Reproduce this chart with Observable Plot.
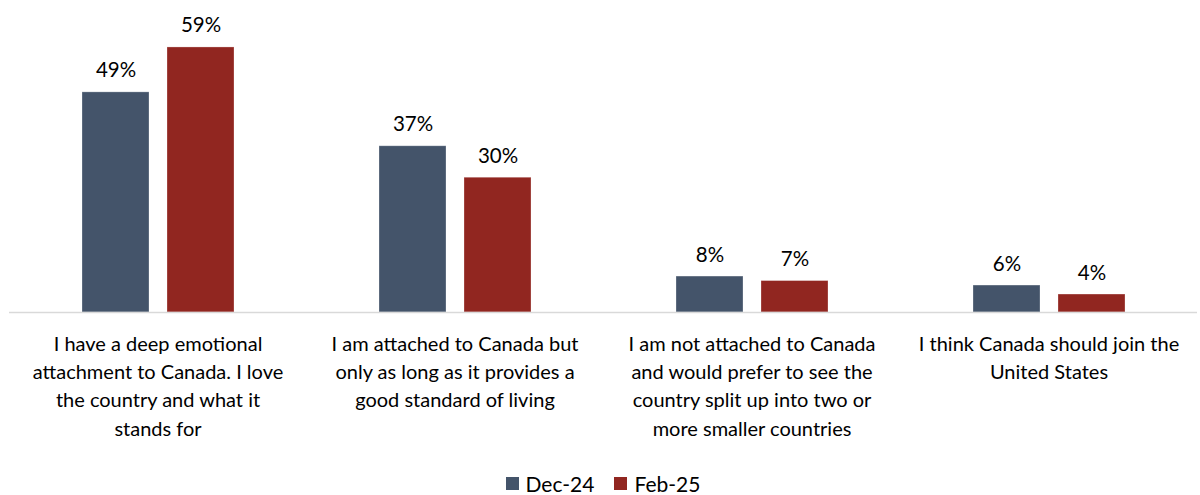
<!DOCTYPE html>
<html>
<head>
<meta charset="utf-8">
<script src="https://cdn.jsdelivr.net/npm/d3@7"></script>
<script src="https://cdn.jsdelivr.net/npm/@observablehq/plot@0.6"></script>
<style>
  body { margin: 0; background: #fff; font-family: Lato, "Open Sans", sans-serif; }
  #chart { width: 1200px; }
  .legend { display: flex; justify-content: center; align-items: center; gap: 20px; font-size: 21px; color: #000; margin-top: 26px; padding-left: 6px; }
  .legend span.item { display: flex; align-items: center; gap: 7px; }
  .legend span.sw { width: 13px; height: 13px; display: inline-block; }
</style>
</head>
<body>
<div id="chart"></div>
<script>
const categories = [
  "I have a deep emotional attachment to Canada. I love the country and what it stands for",
  "I am attached to Canada but only as long as it provides a good standard of living",
  "I am not attached to Canada and would prefer to see the country split up into two or more smaller countries",
  "I think Canada should join the United States"
];
const categoryLabels = [
  "I have a deep emotional\nattachment to Canada. I love\nthe country and what it\nstands for",
  "I am attached to Canada but\nonly as long as it provides a\ngood standard of living",
  "I am not attached to Canada\nand would prefer to see the\ncountry split up into two or\nmore smaller countries",
  "I think Canada should join the\nUnited States"
];
const seriesNames = ["Dec-24", "Feb-25"];
const dec24 = [49, 37, 8, 6];
const feb25 = [59, 30, 7, 4];
const colors = ["#44546A", "#912620"];

const rows = [];
categories.forEach((c, i) => {
  rows.push({category: c, series: seriesNames[0], value: dec24[i]});
  rows.push({category: c, series: seriesNames[1], value: feb25[i]});
});
const labelOf = new Map(categories.map((c, i) => [c, categoryLabels[i]]));

const chart = Plot.plot({
  width: 1200,
  height: 445,
  marginTop: 20,
  marginBottom: 133,
  marginLeft: 8,
  marginRight: 3,
  style: {fontFamily: "Lato, 'Open Sans', sans-serif", color: "#000", background: "#fff"},
  fx: {domain: categories, padding: 0},
  x: {domain: seriesNames, paddingInner: 0.212, paddingOuter: 0.853, axis: null},
  y: {domain: [0, 65], axis: null},
  color: {domain: seriesNames, range: colors},
  marks: [
    Plot.barY(rows, {fx: "category", x: "series", y: "value", fill: "series", stroke: "#ffffff", strokeOpacity: 0.35, strokeWidth: 0.8}),
    Plot.text(rows, {fx: "category", x: "series", y: "value", text: d => d.value + "%", dy: -15, lineAnchor: "bottom", fontSize: 20.5, fill: "#000"}),
    Plot.ruleY([0], {stroke: "#d9d9d9", strokeWidth: 1.5}),
    Plot.axisFx({anchor: "bottom", tickSize: 0, tickPadding: 18, fontSize: 20, lineHeight: 1.42, tickFormat: d => labelOf.get(d), label: null, fill: "#000"})
  ]
});
document.getElementById("chart").appendChild(chart);

const legend = document.createElement("div");
legend.className = "legend";
seriesNames.forEach((s, i) => {
  const item = document.createElement("span");
  item.className = "item";
  const sw = document.createElement("span");
  sw.className = "sw";
  sw.style.background = colors[i];
  item.appendChild(sw);
  item.appendChild(document.createTextNode(s));
  legend.appendChild(item);
});
document.getElementById("chart").appendChild(legend);
</script>
</body>
</html>
